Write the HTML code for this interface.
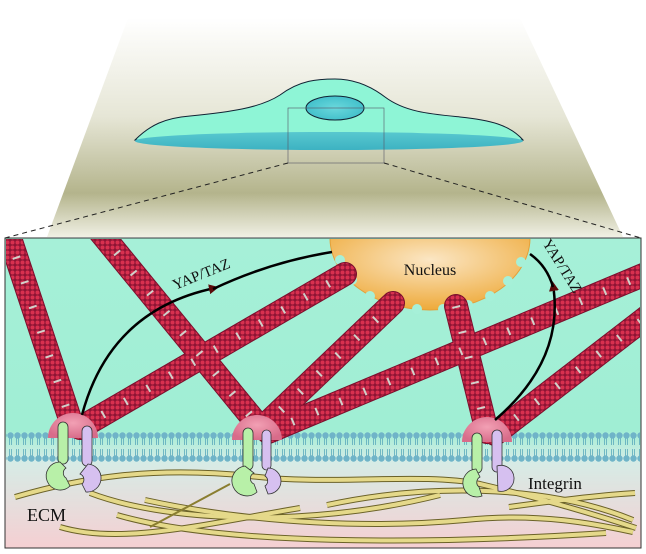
<!DOCTYPE html>
<html><head><meta charset="utf-8"><style>
html,body{margin:0;padding:0;background:#fff;}
svg{display:block;}
text{font-family:"Liberation Serif",serif;}
</style></head><body>
<svg width="646" height="554" viewBox="0 0 646 554" xmlns="http://www.w3.org/2000/svg">
<defs>
<linearGradient id="trap" x1="0" y1="0" x2="0" y2="1">
<stop offset="0" stop-color="#ffffff"/>
<stop offset="0.45" stop-color="#e6e6d6"/>
<stop offset="0.8" stop-color="#b4b48c"/>
<stop offset="1" stop-color="#f0f0e4"/>
</linearGradient>
<linearGradient id="panel" x1="0" y1="0" x2="0" y2="1">
<stop offset="0" stop-color="#a6f0d8"/>
<stop offset="0.62" stop-color="#a0eed4"/>
<stop offset="0.72" stop-color="#d6ece6"/>
<stop offset="1" stop-color="#f5cfd2"/>
</linearGradient>
<radialGradient id="nuc" cx="0.5" cy="0.3" r="0.7">
<stop offset="0" stop-color="#fbe6c4"/>
<stop offset="1" stop-color="#eeaa3a"/>
</radialGradient>
<linearGradient id="base" x1="0" y1="0" x2="0" y2="1">
<stop offset="0" stop-color="#58c8cf"/>
<stop offset="1" stop-color="#3db2c2"/>
</linearGradient>
<radialGradient id="cnuc" cx="0.5" cy="0.5" r="0.6">
<stop offset="0" stop-color="#6ad8dc"/>
<stop offset="1" stop-color="#3cbcc8"/>
</radialGradient>
<pattern id="dots" width="5" height="5" patternUnits="userSpaceOnUse">
<rect width="5" height="5" fill="#8e1434"/>
<circle cx="2.5" cy="2.5" r="2" fill="#d8304f"/>
</pattern>
<pattern id="lip" width="7" height="30" patternUnits="userSpaceOnUse" y="432">
<line x1="2.5" y1="4" x2="2.5" y2="13" stroke="#5aaabb" stroke-width="0.8"/>
<line x1="4.5" y1="4" x2="4.5" y2="13" stroke="#5aaabb" stroke-width="0.8"/>
<line x1="2.5" y1="17" x2="2.5" y2="26" stroke="#5aaabb" stroke-width="0.8"/>
<line x1="4.5" y1="17" x2="4.5" y2="26" stroke="#5aaabb" stroke-width="0.8"/>
<circle cx="3.5" cy="3.5" r="3.2" fill="#6fb4c8"/>
<circle cx="3.5" cy="26.5" r="3.2" fill="#6fb4c8"/>
</pattern>
<radialGradient id="fa" cx="0.5" cy="0.4" r="0.6">
<stop offset="0" stop-color="#f2a0b4"/>
<stop offset="1" stop-color="#d86c8a"/>
</radialGradient>
<clipPath id="pc"><rect x="6" y="239" width="634" height="308"/></clipPath>
<marker id="ah" markerWidth="10" markerHeight="10" refX="6" refY="5" orient="auto" markerUnits="userSpaceOnUse">
<polygon points="0,0 10,5 0,10" fill="#5a0a0a"/>
</marker>
</defs>

<!-- top trapezoid -->
<polygon points="128,18 520,18 623,237 47,237" fill="url(#trap)"/>
<!-- cell -->
<path d="M135,140 C150,125 165,118 190,116 C230,112 260,108 280,95 C300,80 318,79 335,79 C352,79 368,84 385,97 C405,112 430,114 460,117 C490,120 510,125 523,140 Z" fill="#8ef5d6" stroke="#123" stroke-width="1"/>
<ellipse cx="329" cy="141" rx="194" ry="9" fill="url(#base)"/>
<ellipse cx="335" cy="108" rx="29" ry="12" fill="url(#cnuc)" stroke="#123" stroke-width="1"/>
<rect x="288" y="108" width="96" height="55" fill="none" stroke="#556" stroke-width="0.6"/>
<line x1="288" y1="163" x2="5" y2="238" stroke="#222" stroke-width="1" stroke-dasharray="5,4"/>
<line x1="384" y1="163" x2="641" y2="238" stroke="#222" stroke-width="1" stroke-dasharray="5,4"/>

<!-- panel -->
<rect x="5" y="238" width="636" height="310" fill="url(#panel)" stroke="#333" stroke-width="1"/>
<!-- membrane -->
<rect x="6" y="432" width="634" height="30" fill="url(#lip)"/>

<g clip-path="url(#pc)">
<!-- nucleus -->
<path d="M330,238 A100,72 0 0 0 530,238 Z" fill="url(#nuc)" stroke="#e3a03a" stroke-width="1"/>
<g fill="#a6f0d8">
<circle cx="340" cy="260" r="5"/><circle cx="352" cy="280" r="5"/><circle cx="370" cy="296" r="5"/>
<circle cx="392" cy="305" r="5"/><circle cx="417" cy="309" r="5"/><circle cx="443" cy="309" r="5"/>
<circle cx="468" cy="305" r="5"/><circle cx="490" cy="296" r="5"/><circle cx="508" cy="281" r="5"/><circle cx="521" cy="262" r="5"/>
</g>

<!-- actin fibers -->
<g stroke-linecap="round">
<g stroke="#7a0e2c" stroke-width="24">
<line x1="8" y1="232" x2="72" y2="425"/>
<line x1="100" y1="232" x2="258" y2="425"/>
<line x1="80" y1="428" x2="345" y2="274"/>
<line x1="262" y1="428" x2="393" y2="303"/>
<line x1="268" y1="432" x2="648" y2="273"/>
<line x1="456" y1="306" x2="487" y2="432"/>
<line x1="495" y1="434" x2="648" y2="316"/>
</g>
<g stroke="url(#dots)" stroke-width="22">
<line x1="8" y1="232" x2="72" y2="425"/>
<line x1="100" y1="232" x2="258" y2="425"/>
<line x1="80" y1="428" x2="345" y2="274"/>
<line x1="262" y1="428" x2="393" y2="303"/>
<line x1="268" y1="432" x2="648" y2="273"/>
<line x1="456" y1="306" x2="487" y2="432"/>
<line x1="495" y1="434" x2="648" y2="316"/>
</g>
<g stroke="#d6efe2" stroke-width="8" stroke-dasharray="2,24" stroke-linecap="butt" opacity="0.85">
<line x1="8" y1="232" x2="72" y2="425"/>
<line x1="100" y1="232" x2="258" y2="425"/>
<line x1="80" y1="428" x2="345" y2="274"/>
<line x1="262" y1="428" x2="393" y2="303"/>
<line x1="268" y1="432" x2="648" y2="273"/>
<line x1="456" y1="306" x2="487" y2="432"/>
<line x1="495" y1="434" x2="648" y2="316"/>
</g>
</g>
</g>
<text x="430" y="275" font-size="16" text-anchor="middle" fill="#111">Nucleus</text>

<!-- focal adhesions -->
<path d="M48,438 A25,25 0 0 1 98,438 Z" fill="url(#fa)"/>
<path d="M232,440 A25,25 0 0 1 282,440 Z" fill="url(#fa)"/>
<path d="M462,442 A25,25 0 0 1 512,442 Z" fill="url(#fa)"/>

<!-- arrows -->
<path d="M82,415 Q110,310 215,288" fill="none" stroke="#000" stroke-width="2.5" marker-end="url(#ah)"/>
<path d="M213,289 Q270,262 332,252" fill="none" stroke="#000" stroke-width="2.5"/>
<path d="M495,420 Q565,360 553,285" fill="none" stroke="#000" stroke-width="2.5" marker-end="url(#ah)"/>
<path d="M553,287 Q547,266 530,254" fill="none" stroke="#000" stroke-width="2.5"/>
<text x="0" y="0" font-size="15" fill="#111" transform="translate(175,290) rotate(-22)">YAP/TAZ</text>
<text x="0" y="0" font-size="15" fill="#111" transform="translate(542,243) rotate(58)">YAP/TAZ</text>

<!-- ECM fibers -->
<g fill="none" stroke-linecap="butt">
<g stroke="#6b6228" stroke-width="6">
<path d="M15,497 C80,478 150,466 250,476 C330,486 420,472 480,484 C540,498 600,516 636,528"/>
<path d="M90,493 C160,520 300,530 440,495"/>
<path d="M145,500 C260,525 380,528 465,520 C540,512 600,525 633,532"/>
<path d="M117,515 C220,545 420,545 606,533"/>
<path d="M327,505 C420,485 540,482 633,520"/>
<path d="M60,527 C120,545 200,525 300,508"/>
<path d="M509,507 C560,500 600,495 635,493"/>
</g>
<g stroke="#e5d98a" stroke-width="4">
<path d="M15,497 C80,478 150,466 250,476 C330,486 420,472 480,484 C540,498 600,516 636,528"/>
<path d="M90,493 C160,520 300,530 440,495"/>
<path d="M145,500 C260,525 380,528 465,520 C540,512 600,525 633,532"/>
<path d="M117,515 C220,545 420,545 606,533"/>
<path d="M327,505 C420,485 540,482 633,520"/>
<path d="M60,527 C120,545 200,525 300,508"/>
<path d="M509,507 C560,500 600,495 635,493"/>
</g>
<line x1="150" y1="527" x2="230" y2="484" stroke="#8a7e30" stroke-width="2"/>
</g>

<!-- integrins -->
<g stroke="#333" stroke-width="0.8">
<rect x="58" y="422" width="10" height="42" rx="5" fill="#b8f0a8"/>
<path d="M60,462 A14,14 0 1 0 70,486 L66,478 A6,6 0 0 1 66,468 Z" fill="#b8f0a8"/>
<rect x="82" y="426" width="10" height="40" rx="5" fill="#d6c0f0"/>
<path d="M88,464 A14,14 0 1 1 86,492 L82,484 A6,6 0 0 0 80,474 Z" fill="#d6c0f0"/>
<rect x="243" y="428" width="10" height="42" rx="5" fill="#b8f0a8"/>
<path d="M245,466 A15,15 0 1 0 257,492 L254,484 A6,6 0 0 1 254,473 Z" fill="#b8f0a8"/>
<rect x="262" y="430" width="9" height="40" rx="4.5" fill="#d6c0f0"/>
<path d="M268,468 A13,13 0 1 1 268,494 L265,486 A6,6 0 0 0 265,476 Z" fill="#d6c0f0"/>
<rect x="472" y="433" width="10" height="40" rx="5" fill="#b8f0a8"/>
<path d="M476,469 A14,14 0 1 0 482,496 L479,487 A6,6 0 0 1 480,477 Z" fill="#b8f0a8"/>
<rect x="492" y="430" width="10" height="42" rx="5" fill="#d6c0f0"/>
<path d="M497,466 A13,13 0 1 1 498,491 Z" fill="#d6c0f0"/>
</g>

<text x="528" y="489" font-size="17" fill="#111">Integrin</text>
<text x="27" y="521" font-size="18" fill="#111">ECM</text>
</svg>
</body></html>
